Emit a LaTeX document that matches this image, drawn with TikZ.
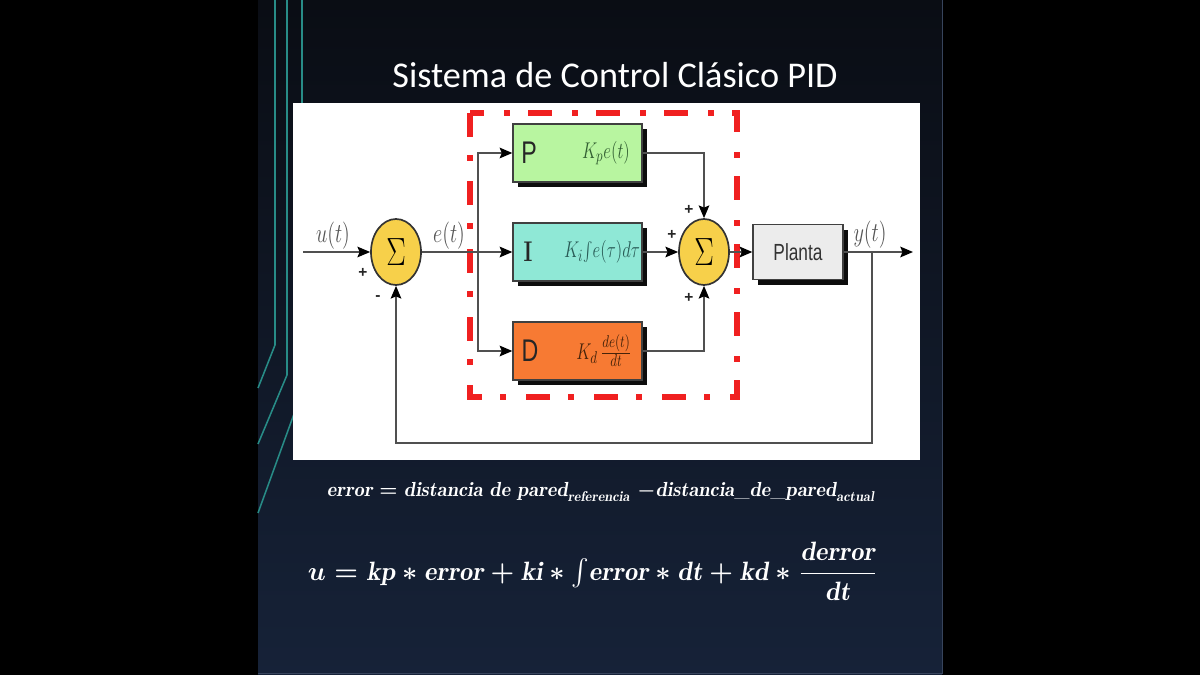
\documentclass[tikz,border=0pt]{standalone}
\usepackage{fontspec}
\usepackage{graphicx}
\usetikzlibrary{arrows.meta,shadows,shapes.geometric}
\newfontfamily\carlito{Carlito}
\newfontfamily\arialf{Liberation Sans}
\definecolor{slidetop}{RGB}{10,13,20}
\definecolor{slidebot}{RGB}{22,34,56}
\definecolor{tealline}{RGB}{40,140,135}
\definecolor{linegray}{RGB}{80,80,80}
\definecolor{labelgray}{RGB}{85,85,85}
\definecolor{pgreen}{RGB}{184,245,160}
\definecolor{iaqua}{RGB}{143,232,214}
\definecolor{dorange}{RGB}{247,122,51}
\definecolor{sumyellow}{RGB}{247,208,74}
\definecolor{plantgray}{RGB}{236,236,236}
\definecolor{pidred}{RGB}{240,32,32}
\definecolor{ptext}{RGB}{50,95,50}
\definecolor{itext}{RGB}{40,90,85}
\definecolor{dtext}{RGB}{70,35,10}
\newcommand{\tallbox}[1]{\scalebox{1}[1.35]{#1}}
\begin{document}
\begin{tikzpicture}[x=0.025cm,y=-0.025cm,
  conn/.style={draw=linegray, line width=1.4pt},
  arr/.style={conn, -{Stealth[length=9pt,width=7.5pt,inset=1.5pt,color=black]}},
  blockbox/.style={draw=black!75, line width=0.9pt, minimum width=3.225cm, minimum height=1.45cm, inner sep=0pt,
     drop shadow={shadow xshift=0.13cm, shadow yshift=-0.13cm, fill=black, opacity=0.95}},
  sumnode/.style={ellipse, draw=black!80, line width=1.2pt, fill=sumyellow, minimum width=1.25cm, minimum height=1.65cm, inner sep=0pt},
  lbl/.style={text=labelgray, inner sep=0pt, font=\fontsize{14}{14}\selectfont},
  sign/.style={inner sep=0pt, text=black!85, font=\arialf\bfseries\fontsize{11}{11}\selectfont},
  letter/.style={inner sep=0pt, text=black!85, font=\arialf\fontsize{16.5}{16.5}\selectfont},
  formula/.style={inner sep=0pt, font=\fontsize{12.5}{12.5}\selectfont},
  eqtext/.style={inner sep=0pt, text=white},
]
\useasboundingbox (0,0) rectangle (1200,675);
% background
\fill[black] (0,0) rectangle (1200,675);
\shade[top color=slidetop, bottom color=slidebot] (258,0) rectangle (942,675);
\draw[color={rgb,255:red,55;green,68;blue,92}, line width=0.6pt] (942,0) -- (942,673) -- (258,673);
% decorative teal lines
\draw[tealline, line width=1.1pt] (275,0) -- (275,345) -- (258,388);
\draw[tealline, line width=1.1pt] (287,0) -- (287,375) -- (258,444);
\draw[tealline, line width=1.1pt] (302,0) -- (302,392) -- (258,513);
% title
\node[text=white, inner sep=0pt] (title) at (615,75) {\resizebox{11.125cm}{!}{\carlito Sistema de Control Clásico PID}};
% white panel
\fill[white] (293,103) rectangle (920,460);
% red dash-dot frame
\draw[pidred, line width=0.165cm, dash pattern=on 0.6cm off 0.45cm on 0.15cm off 0.5cm] (470,113) rectangle (737,397);
% blocks
\node[blockbox, fill=pgreen] (P) at (577.5,153) {};
\node[blockbox, fill=iaqua] (I) at (577.5,252) {};
\node[blockbox, fill=dorange] (D) at (577.5,351) {};
\node[blockbox, fill=plantgray, minimum width=2.25cm, minimum height=1.375cm] (Pl) at (798,252) {};
\node[letter] (Pt) at (529,153) {\tallbox{P}};
\node[inner sep=0pt, text=black!85, font=\bfseries\fontsize{15}{15}\selectfont] (It) at (528,252) {\tallbox{I}};
\node[letter] (Dt) at (530,351) {\tallbox{D}};
\node[formula, text=ptext] (Pf) at (606,153) {\tallbox{$K_{p}e(t)$}};
\node[formula, text=itext] (If) at (602,252) {\tallbox{$K_{i}\!\int\! e(\tau)d\tau$}};
\node[formula, text=dtext] (Df) at (604,351) {\tallbox{$K_{d}\,\frac{de(t)}{dt}$}};
\node[inner sep=0pt, text=black!80, font=\arialf\fontsize{12.3}{12.3}\selectfont] (Plt) at (798,252) {\tallbox{Planta}};
% summing junctions
\node[sumnode] (s1) at (396,252) {\tallbox{\fontsize{20}{20}\selectfont$\Sigma$}};
\node[sumnode] (s2) at (704,252) {\tallbox{\fontsize{20}{20}\selectfont$\Sigma$}};
% coordinates
\coordinate (uin) at (303,252);
\coordinate (br) at (478,252);
\coordinate (fb) at (872,252);
\coordinate (fbc) at (872,443);
\coordinate (yout) at (913,252);
% connectors
\draw[arr] (uin) -- (s1.west);
\draw[arr] (s1.east) -- (I.west);
\draw[arr] (br) |- (P.west);
\draw[arr] (br) |- (D.west);
\draw[arr] (P.east) -| (s2.north);
\draw[arr] (I.east) -- (s2.west);
\draw[arr] (D.east) -| (s2.south);
\draw[arr] (s2.east) -- (Pl.west);
\draw[arr] (Pl.east) -- (yout);
\draw[arr] (fb) -- (fbc) -| (s1.south);
% signal labels
\node[lbl] (ul) at (333,236) {\tallbox{$u(t)$}};
\node[lbl] (el) at (449,236) {\tallbox{$e(t)$}};
\node[lbl] (yl) at (870,235) {\tallbox{$y(t)$}};
% signs
\node[sign] (sg1) at (363,273) {+};
\node[sign] (sg2) at (378,298) {-};
\node[sign] (sg3) at (689,210) {+};
\node[sign] (sg4) at (672,235) {+};
\node[sign] (sg5) at (689,298) {+};
% equations
\node[eqtext] (eq1) at (601,492) {\resizebox{13.7cm}{!}{\boldmath$\mathit{error} = \mathit{distancia\ de\ pared}_{\mathit{referencia}}\ {-}\mathit{distancia\_de\_pared}_{\mathit{actual}}$}};
\node[eqtext] (eq2) at (593,571) {\resizebox{14.25cm}{!}{\boldmath$\displaystyle u = \mathit{kp} * \mathit{error} + \mathit{ki} * {\textstyle\int} \mathit{error} * \mathit{dt} + \mathit{kd} * \frac{\mathit{derror}}{\mathit{dt}}$}};
\end{tikzpicture}
\end{document}
